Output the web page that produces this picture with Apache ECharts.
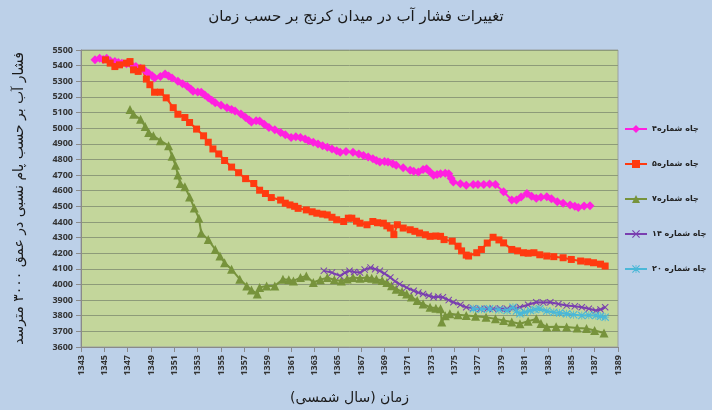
<!DOCTYPE html>
<html>
<head>
<meta charset="UTF-8">
<title></title>
<style>
html,body{margin:0;padding:0;background:#fff;}
#charts{width:712px;height:410px;}
</style>
</head>
<body>
<div id="charts"></div>
<script src="https://cdn.jsdelivr.net/npm/echarts@6/dist/echarts.min.js"></script>
<script>
// سال شمسی ، فشار
var well4 = [[1344.2,5437],[1344.6,5447],[1344.9,5440],[1345.2,5447],[1345.5,5432],[1345.9,5426],[1346.2,5420],[1346.5,5416],[1346.9,5412],[1347.3,5405],[1347.7,5395],[1348.1,5384],[1348.5,5368],[1348.8,5352],[1349.1,5335],[1349.3,5321],[1349.8,5331],[1350.2,5346],[1350.5,5334],[1350.8,5321],[1351.3,5300],[1351.7,5284],[1352.1,5268],[1352.4,5250],[1352.6,5236],[1353.0,5232],[1353.3,5230],[1353.6,5212],[1353.9,5194],[1354.2,5178],[1354.5,5163],[1355.0,5147],[1355.5,5131],[1355.9,5120],[1356.2,5110],[1356.7,5090],[1357.1,5068],[1357.4,5052],[1357.6,5040],[1358.0,5048],[1358.3,5046],[1358.7,5025],[1359.1,5004],[1359.6,4990],[1360.1,4973],[1360.5,4958],[1361.0,4941],[1361.4,4945],[1361.8,4941],[1362.2,4930],[1362.5,4920],[1362.9,4910],[1363.3,4899],[1363.7,4888],[1364.1,4878],[1364.5,4866],[1364.9,4856],[1365.2,4846],[1365.7,4850],[1366.3,4846],[1366.8,4835],[1367.2,4825],[1367.6,4815],[1368.0,4804],[1368.3,4793],[1368.6,4783],[1369.0,4786],[1369.3,4783],[1369.7,4772],[1370.0,4762],[1370.6,4746],[1371.2,4730],[1371.5,4724],[1371.9,4720],[1372.3,4735],[1372.6,4741],[1372.9,4720],[1373.2,4699],[1373.5,4704],[1373.8,4709],[1374.2,4712],[1374.5,4709],[1374.7,4680],[1374.9,4656],[1375.5,4645],[1376.0,4635],[1376.6,4639],[1377.0,4640],[1377.5,4639],[1378.0,4642],[1378.5,4639],[1379.2,4593],[1379.9,4540],[1380.3,4540],[1380.7,4560],[1381.2,4582],[1381.6,4565],[1382.0,4551],[1382.4,4558],[1382.9,4561],[1383.3,4548],[1383.8,4530],[1384.3,4520],[1384.9,4509],[1385.3,4500],[1385.6,4492],[1386.1,4502],[1386.6,4504]];
var well5 = [[1345.1,5437],[1345.5,5416],[1345.9,5394],[1346.3,5405],[1346.9,5416],[1347.2,5426],[1347.5,5373],[1347.9,5363],[1348.2,5384],[1348.6,5314],[1348.9,5278],[1349.3,5230],[1349.8,5230],[1350.3,5194],[1350.9,5131],[1351.3,5089],[1351.9,5068],[1352.3,5036],[1352.9,4994],[1353.5,4951],[1353.9,4910],[1354.3,4867],[1354.8,4835],[1355.3,4793],[1355.9,4751],[1356.5,4715],[1357.1,4677],[1357.8,4646],[1358.3,4603],[1358.8,4582],[1359.3,4556],[1360.1,4540],[1360.5,4520],[1360.9,4509],[1361.3,4500],[1361.6,4487],[1362.3,4477],[1362.8,4465],[1363.2,4456],[1363.7,4450],[1364.1,4445],[1364.5,4430],[1364.9,4414],[1365.5,4403],[1365.9,4424],[1366.2,4424],[1366.6,4405],[1366.9,4392],[1367.5,4382],[1368.0,4403],[1368.4,4395],[1368.9,4392],[1369.2,4375],[1369.5,4361],[1369.8,4319],[1370.1,4382],[1370.6,4361],[1371.2,4350],[1371.6,4340],[1372.0,4329],[1372.5,4318],[1372.9,4308],[1373.4,4310],[1373.8,4308],[1374.1,4287],[1374.8,4277],[1375.3,4245],[1375.6,4215],[1376.0,4188],[1376.2,4182],[1376.9,4203],[1377.3,4224],[1377.8,4265],[1378.3,4302],[1378.8,4285],[1379.2,4266],[1379.9,4224],[1380.4,4215],[1380.9,4203],[1381.3,4200],[1381.8,4203],[1382.3,4190],[1382.9,4182],[1383.5,4178],[1384.3,4171],[1385.0,4160],[1385.8,4150],[1386.4,4145],[1386.9,4139],[1387.5,4130],[1387.9,4118]];
var well7 = [[1347.2,5120],[1347.5,5089],[1348.1,5057],[1348.5,5010],[1348.8,4973],[1349.2,4951],[1349.8,4920],[1350.5,4888],[1350.8,4820],[1351.1,4762],[1351.3,4700],[1351.5,4646],[1351.9,4625],[1352.3,4560],[1352.7,4490],[1353.1,4424],[1353.3,4329],[1353.9,4287],[1354.5,4224],[1354.9,4182],[1355.3,4139],[1355.9,4097],[1356.6,4034],[1357.2,3991],[1357.6,3965],[1358.1,3939],[1358.3,3981],[1358.9,3991],[1359.6,3991],[1360.3,4034],[1360.8,4030],[1361.2,4023],[1361.8,4044],[1362.3,4055],[1362.9,4013],[1363.5,4030],[1364.1,4044],[1364.7,4030],[1365.3,4023],[1365.8,4035],[1366.3,4044],[1366.9,4040],[1367.5,4044],[1367.9,4040],[1368.3,4034],[1368.8,4025],[1369.2,4013],[1369.6,3992],[1370.0,3970],[1370.5,3955],[1370.9,3939],[1371.3,3920],[1371.8,3897],[1372.3,3875],[1372.9,3854],[1373.4,3848],[1373.8,3844],[1373.9,3760],[1374.2,3800],[1374.6,3813],[1375.3,3806],[1376.0,3801],[1376.8,3796],[1377.7,3791],[1378.5,3780],[1379.2,3770],[1379.9,3760],[1380.6,3749],[1381.3,3765],[1382.0,3780],[1382.4,3750],[1382.9,3728],[1383.7,3730],[1384.6,3728],[1385.5,3722],[1386.3,3718],[1387.0,3705],[1387.8,3690]];
var well14 = [[1363.8,4087],[1364.5,4076],[1365.2,4055],[1365.6,4075],[1366.0,4087],[1366.4,4080],[1366.9,4076],[1367.3,4095],[1367.8,4108],[1368.2,4098],[1368.6,4087],[1369.0,4070],[1369.5,4045],[1369.9,4020],[1370.3,4002],[1370.9,3980],[1371.5,3960],[1371.9,3948],[1372.3,3939],[1372.8,3928],[1373.2,3918],[1373.6,3922],[1374.0,3918],[1374.5,3900],[1374.9,3886],[1375.5,3870],[1376.0,3854],[1376.6,3848],[1377.2,3844],[1377.8,3845],[1378.3,3844],[1378.9,3846],[1379.5,3844],[1380.0,3848],[1380.6,3854],[1381.3,3870],[1382.0,3886],[1382.6,3884],[1383.2,3886],[1383.9,3875],[1384.6,3865],[1385.3,3860],[1385.9,3854],[1386.5,3845],[1387.1,3833],[1387.5,3840],[1387.9,3854]];
var well20 = [[1376.6,3844],[1377.3,3842],[1378.0,3844],[1378.8,3838],[1379.5,3833],[1380.0,3854],[1380.3,3830],[1380.6,3812],[1381.0,3822],[1381.5,3833],[1381.9,3840],[1382.3,3844],[1382.9,3830],[1383.5,3822],[1384.0,3818],[1384.6,3812],[1385.2,3806],[1385.9,3801],[1386.5,3803],[1387.1,3801],[1387.5,3796],[1387.9,3791]];

var names = ['چاه شماره۴', 'چاه شماره۵', 'چاه شماره۷', 'چاه شماره ۱۴', 'چاه شماره ۲۰'];
var colors = ['#ff20e0', '#ff3a10', '#77933c', '#7a3fb0', '#4bb8d8'];

var xSymbol = 'path://M0,1L1,0L5,4L9,0L10,1L6,5L10,9L9,10L5,6L1,10L0,9L4,5Z';
var starSymbol = 'path://M0,1L1,0L5,4L9,0L10,1L6,5L10,9L9,10L5,6L1,10L0,9L4,5ZM4.5,0H5.5V4.5H10V5.5H5.5V10H4.5V5.5H0V4.5H4.5Z';

var mycharts = echarts.init(document.getElementById('charts'));
var fa = "'DejaVu Sans', sans-serif";

function mk(i, data, symbol, size) {
    return {
        name: names[i],
        type: 'line',
        data: data,
        symbol: symbol,
        symbolSize: size,
        lineStyle: {color: colors[i], width: 2},
        itemStyle: {color: colors[i]},
        emphasis: {disabled: true}
    };
}

var option = {
    animation: false,
    backgroundColor: '#bcd0e8',
    color: colors,
    title: {
        text: 'تغییرات فشار آب در میدان کرنج بر حسب زمان',
        left: 'center',
        top: 5,
        textStyle: {fontFamily: fa, fontSize: 15, fontWeight: 'normal', color: '#1a1a1a'}
    },
    legend: {
        orient: 'vertical',
        left: 619,
        top: 120,
        itemGap: 27,
        itemWidth: 22,
        itemHeight: 10,
        textStyle: {fontFamily: fa, fontSize: 8, fontWeight: 'bold', color: '#222'},
        data: names
    },
    grid: {
        left: 81, right: 94, top: 50, bottom: 60,
        show: true,
        backgroundColor: '#c3d69b',
        borderColor: '#9aa0a0',
        borderWidth: 1
    },
    xAxis: {
        type: 'value',
        min: 1343, max: 1389, interval: 2,
        name: 'زمان (سال شمسی)',
        nameLocation: 'middle',
        nameGap: 44,
        nameTextStyle: {fontFamily: fa, fontSize: 14, color: '#1a1a1a'},
        axisLine: {lineStyle: {color: '#8a8a8a'}},
        axisTick: {show: true, lineStyle: {color: '#8a8a8a'}},
        axisLabel: {rotate: 90, fontFamily: 'Open Sans', fontWeight: 'bold', fontSize: 9, color: '#333', formatter: function (v) { return String(v); }},
        splitLine: {show: false}
    },
    yAxis: {
        type: 'value',
        min: 3600, max: 5500, interval: 100,
        name: 'فشار آب بر حسب پام نسبی در عمق ۳۰۰۰ مترسد',
        nameLocation: 'middle',
        nameRotate: 90,
        nameGap: 55,
        nameTextStyle: {fontFamily: fa, fontSize: 14, color: '#1a1a1a'},
        axisLine: {show: true, lineStyle: {color: '#8a8a8a'}},
        axisTick: {show: true, lineStyle: {color: '#8a8a8a'}},
        axisLabel: {fontFamily: 'Open Sans', fontWeight: 'bold', fontSize: 9, color: '#333', formatter: function (v) { return String(v); }},
        splitLine: {lineStyle: {color: '#8d9b79', width: 1}}
    },
    series: [
        mk(0, well4, 'diamond', 9),
        mk(1, well5, 'rect', 7),
        mk(2, well7, 'triangle', 9),
        mk(3, well14, xSymbol, 7),
        mk(4, well20, starSymbol, 8)
    ]
};
mycharts.setOption(option);
</script>
</body>
</html>
